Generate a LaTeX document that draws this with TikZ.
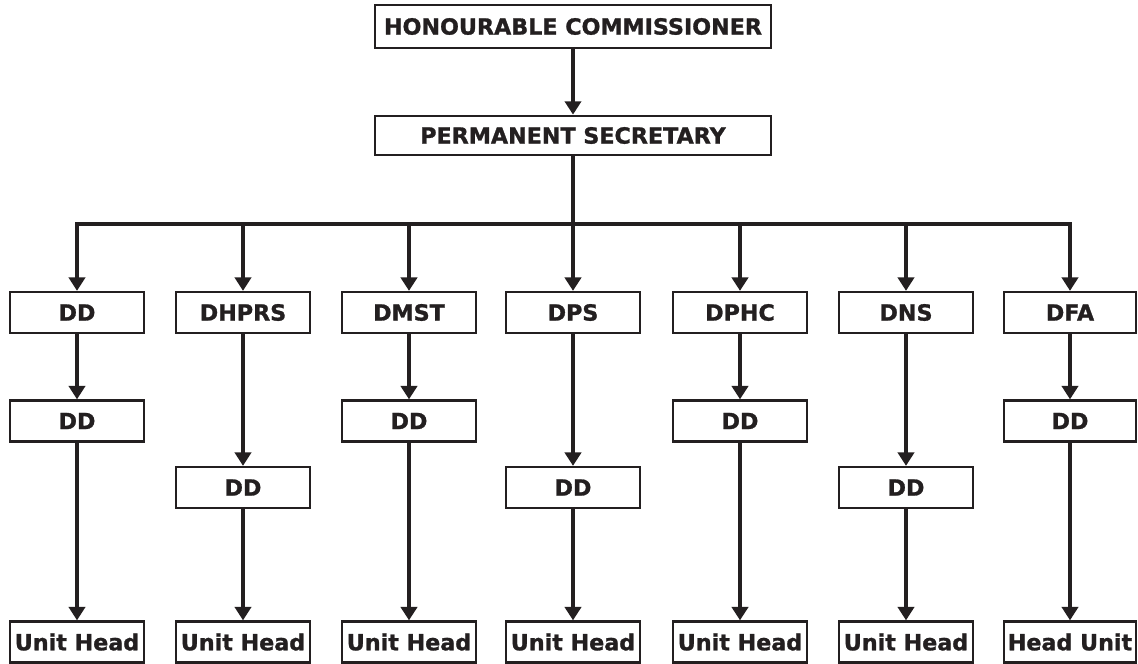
\documentclass[tikz,border=0pt]{standalone}
\usepackage{fontspec}
\setmainfont[BoldFeatures={FakeBold=1.2}]{DejaVu Sans}
\usepackage{xcolor}
\usepackage{tikz}
\usetikzlibrary{arrows.meta}
\definecolor{ink}{HTML}{231F20}

\tikzset{
  box/.style={draw=ink, line width=1.8pt, fill=white, minimum width=3.35cm, minimum height=1.02cm,
    inner sep=0pt, text=ink, font=\fontsize{15.8}{18}\selectfont\bfseries},
  widebox/.style={box, minimum width=9.9cm},
  arr/.style={-{Triangle[width=11.5pt,length=9.5pt]}, draw=ink, line width=2.2pt},
  heavy/.style={arr, line width=3.3pt},
}

\begin{document}
\begin{tikzpicture}[x=0.025cm, y=-0.025cm]
    \useasboundingbox (0,0) rectangle (1138,664);
    \node[widebox, minimum height=1.07cm] (A) at (573,26.5) {HONOURABLE COMMISSIONER};
    \node[widebox, minimum height=0.98cm] (B) at (573,135.5) {PERMANENT SECRETARY};
    \coordinate (J1) at (77,224);
    \coordinate (J2) at (243,224);
    \coordinate (J3) at (409,224);
    \coordinate (J4) at (573,224);
    \coordinate (J5) at (740,224);
    \coordinate (J6) at (906,224);
    \coordinate (J7) at (1070,224);
    \node[box] (D1) at (77,312.5) {DD};
    \node[box] (D2) at (243,312.5) {DHPRS};
    \node[box] (D3) at (409,312.5) {DMST};
    \node[box] (D4) at (573,312.5) {DPS};
    \node[box] (D5) at (740,312.5) {DPHC};
    \node[box] (D6) at (906,312.5) {DNS};
    \node[box, minimum width=3.3cm] (D7) at (1070,312.5) {DFA};
    \node[box] (E1) at (77,421) {DD};
    \node[box] (E2) at (243,487.5) {DD};
    \node[box] (E3) at (409,421) {DD};
    \node[box] (E4) at (573,487.5) {DD};
    \node[box] (E5) at (740,421) {DD};
    \node[box] (E6) at (906,487.5) {DD};
    \node[box, minimum width=3.3cm] (E7) at (1070,421) {DD};
    \node[box] (F1) at (77,642) {Unit Head};
    \node[box] (F2) at (243,642) {Unit Head};
    \node[box] (F3) at (409,642) {Unit Head};
    \node[box] (F4) at (573,642) {Unit Head};
    \node[box] (F5) at (740,642) {Unit Head};
    \node[box] (F6) at (906,642) {Unit Head};
    \node[box, minimum width=3.3cm] (F7) at (1070,642) {Head Unit};
    \draw [heavy] (A) -- (B);
    \draw [draw=ink, line width=3.3pt] (B) -- (J4);
    \draw [draw=ink, line width=2.2pt, line cap=rect] (J1) -- (J7);
    \draw [arr] (J1) -- (D1);
    \draw [arr] (D1) -- (E1);
    \draw [arr] (E1) -- (F1);
    \draw [arr] (J2) -- (D2);
    \draw [arr] (D2) -- (E2);
    \draw [arr] (E2) -- (F2);
    \draw [heavy] (J3) -- (D3);
    \draw [heavy] (D3) -- (E3);
    \draw [heavy] (E3) -- (F3);
    \draw [heavy] (J4) -- (D4);
    \draw [heavy] (D4) -- (E4);
    \draw [heavy] (E4) -- (F4);
    \draw [heavy] (J5) -- (D5);
    \draw [heavy] (D5) -- (E5);
    \draw [heavy] (E5) -- (F5);
    \draw [arr] (J6) -- (D6);
    \draw [arr] (D6) -- (E6);
    \draw [arr] (E6) -- (F6);
    \draw [arr] (J7) -- (D7);
    \draw [arr] (D7) -- (E7);
    \draw [arr] (E7) -- (F7);
\end{tikzpicture}
\end{document}
